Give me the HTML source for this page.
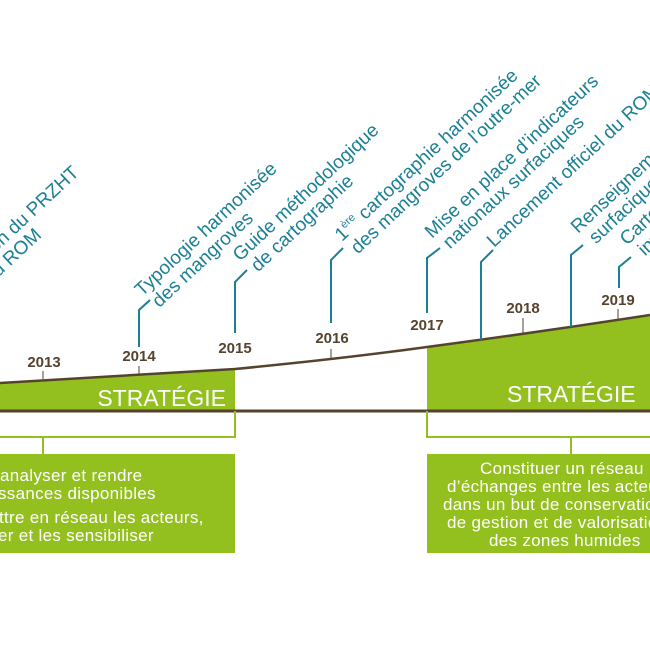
<!DOCTYPE html>
<html><head><meta charset="utf-8"><style>
html,body{margin:0;padding:0;background:#fff;width:650px;height:650px;overflow:hidden}
svg{display:block}
.t{font-family:"Liberation Sans",sans-serif;font-size:19px;fill:#1b7f96}
.y{font-family:"Liberation Sans",sans-serif;font-size:15px;font-weight:bold;fill:#56432e}
.s{font-family:"Liberation Sans",sans-serif;font-size:23px;fill:#fff}
.b{font-family:"Liberation Sans",sans-serif;font-size:17px;fill:#fff;letter-spacing:0.3px}
</style></head><body>
<svg width="650" height="650" viewBox="0 0 650 650" xmlns="http://www.w3.org/2000/svg">
<path d="M0,383 Q120,376 235,369 L235,411 L0,411 Z" fill="#93c01f"/>
<path d="M427,347 Q540,332 650,315 L650,411 L427,411 Z" fill="#93c01f"/>
<path d="M0,383 Q120,376 235,369 Q340,359 427,347 Q540,332 650,315" fill="none" stroke="#56432e" stroke-width="2.5"/>
<line x1="0" y1="411" x2="650" y2="411" stroke="#56432e" stroke-width="3"/>
<g stroke="#56432e" stroke-width="1">
<line x1="43" y1="371" x2="43" y2="379"/>
<line x1="139" y1="366" x2="139" y2="375"/>
<line x1="331" y1="349" x2="331" y2="358"/>
<line x1="523" y1="318" x2="523" y2="335"/>
<line x1="618" y1="309" x2="618" y2="320"/>
</g>
<g class="y" text-anchor="middle">
<text x="44" y="367">2013</text>
<text x="139" y="361">2014</text>
<text x="235" y="353">2015</text>
<text x="332" y="343">2016</text>
<text x="427" y="330">2017</text>
<text x="523" y="313">2018</text>
<text x="618" y="305">2019</text>
</g>
<text class="s" x="226" y="406" text-anchor="end">STRATÉGIE</text>
<text class="s" x="507" y="402">STRATÉGIE</text>
<g fill="none" stroke="#93c01f" stroke-width="2">
<path d="M0,437 L235,437 L235,411"/>
<line x1="43" y1="437" x2="43" y2="454"/>
<path d="M427,411 L427,437 L650,437"/>
<line x1="571" y1="437" x2="571" y2="454"/>
</g>
<rect x="0" y="454" width="235" height="99" fill="#93c01f"/>
<rect x="427" y="454" width="223" height="99" fill="#93c01f"/>
<g class="b">
<text x="0" y="481">analyser et rendre</text>
<text x="-2" y="499">ssances disponibles</text>
<text x="-1" y="523">ttre en réseau les acteurs,</text>
<text x="-2" y="541">er et les sensibiliser</text>
</g>
<g class="b">
<text x="480" y="474">Constituer un réseau</text>
<text x="447" y="492">d’échanges entre les acteurs</text>
<text x="443" y="510">dans un but de conservation,</text>
<text x="447" y="528">de gestion et de valorisation</text>
<text x="489" y="546">des zones humides</text>
</g>
<g fill="none" stroke="#1b7f96" stroke-width="2">
<path d="M139,347 L139,310 L150,300"/>
<path d="M235,333 L235,282 L247,270"/>
<path d="M331,323 L331,260 L343,248"/>
<path d="M427,313 L427,258 L440,248"/>
<path d="M481,340 L481,262 L493,250"/>
<path d="M571,327 L571,255 L583,245"/>
<path d="M619,288 L619,267 L631,257"/>
</g>
<g class="t">
<g transform="translate(80,174) rotate(-43)"><text x="0" y="0" text-anchor="end">Validation du PRZHT</text><text x="-70" y="20" text-anchor="end">et du ROM</text></g>
<g transform="translate(142,297) rotate(-43)"><text x="0" y="0">Typologie harmonisée</text><text x="5" y="20">des mangroves</text></g>
<g transform="translate(240,262) rotate(-43)"><text x="0" y="0">Guide méthodologique</text><text x="6" y="20">de cartographie</text></g>
<g transform="translate(342,242) rotate(-43)"><text x="0" y="0">1<tspan font-size="11" dy="-8">ère</tspan><tspan dy="8"> cartographie harmonisée</tspan></text><text x="3" y="20">des mangroves de l’outre-mer</text></g>
<g transform="translate(432,239) rotate(-43)"><text x="0" y="0">Mise en place d’indicateurs</text><text x="6" y="20">nationaux surfaciques</text></g>
<g transform="translate(494,248) rotate(-43)"><text x="0" y="0">Lancement officiel du ROM</text></g>
<g transform="translate(578,234) rotate(-43)"><text x="0" y="0">Renseignement des indicateurs</text><text x="6" y="20">surfaciques</text></g>
<g transform="translate(627,246) rotate(-43)"><text x="0" y="0">Cartographie</text><text x="6" y="20">inventaire</text></g>
</g>
</svg>
</body></html>
